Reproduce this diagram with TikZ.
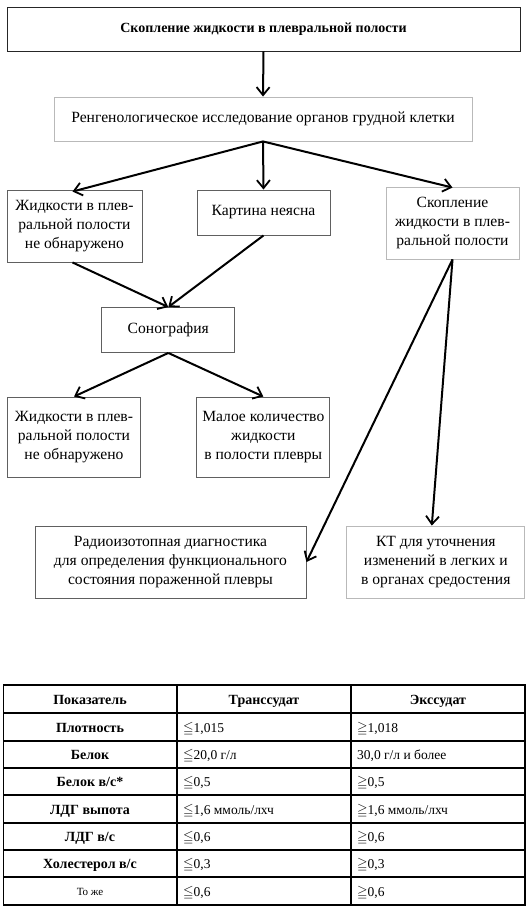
\documentclass[tikz,border=0pt]{standalone}
\usepackage{fontspec}
\setmainfont{Liberation Serif}
\usepackage{amssymb}
\usetikzlibrary{arrows.meta,calc}
\begin{document}
\begin{tikzpicture}[x=1pt,y=-1pt,
  box/.style={draw=gray!75!black, line width=0.9pt, align=center, inner sep=0pt,
    font=\fontsize{15.6}{18.8}\selectfont},
  lbox/.style={box, draw=gray!55},
  arr/.style={-{Straight Barb[length=8pt,width=13pt,line width=1.8pt]}, line width=2pt},
  th/.style={font=\fontsize{14}{16}\selectfont\bfseries, inner sep=0pt, anchor=base},
  td/.style={font=\fontsize{13.5}{16}\selectfont, anchor=base west, inner sep=0pt},
  tl/.style={line width=1.6pt}]
\useasboundingbox (0,0) rectangle (530,908);
% flowchart
\node[box, draw=black!85, minimum width=513pt, minimum height=44pt, font=\fontsize{14}{18}\selectfont\bfseries] (top) at (263.5,29) {Скопление жидкости в плевральной полости};
\node[lbox, minimum width=418pt, minimum height=44pt] (xray) at (263,119) {Ренгенологическое исследование органов грудной клетки};
\node[box, minimum width=135pt, minimum height=72pt] (none1) at (74.5,226) {Жидкости в плев-\\ральной полости\\не обнаружено};
\node[box, minimum width=133pt, minimum height=45pt] (unclear) at (263.5,212.5) {Картина неясна};
\node[lbox, minimum width=133pt, minimum height=72pt] (fluid) at (452.5,223) {Скопление\\жидкости в плев-\\ральной полости};
\node[box, minimum width=133pt, minimum height=45pt] (sono) at (168.3,330) {Сонография};
\node[box, minimum width=133pt, minimum height=80pt] (none2) at (74,437) {Жидкости в плев-\\ральной полости\\не обнаружено};
\node[box, minimum width=133pt, minimum height=80pt] (small) at (263.3,437) {Малое количество\\жидкости\\в полости плевры};
\node[box, minimum width=271pt, minimum height=72pt] (radio) at (170.5,562) {Радиоизотопная диагностика\\для определения функционального\\состояния пораженной плевры};
\node[lbox, minimum width=178pt, minimum height=72pt] (ct) at (435.8,562) {КТ для уточнения\\изменений в легких и\\в органах средостения};
\draw[arr] (top.south) -- (xray.north);
\draw[arr] (xray.south) -- ($(none1.north)+(-2,2)$);
\draw[arr] (xray.south) -- (unclear.north);
\draw[arr] (xray.south) -- ($(fluid.north)+(0,1)$);
\draw[arr] ($(none1.south)+(-2,0)$) -- (sono.north);
\draw[arr] (unclear.south) -- (sono.north);
\draw[arr] (sono.south) -- (none2.north);
\draw[arr] (sono.south) -- (small.north);
\draw[arr] (fluid.south) -- (radio.east);
\draw[arr] (fluid.south) -- ($(ct.north)+(-4,0)$);
% table
\draw[tl, line width=1.8pt] (3.5,685) rectangle (525,905);
\foreach \y in {713,741,768,795,823,850,877} \draw[tl] (3.5,\y) -- (525,\y);
\draw[tl] (177,685) -- (177,905);
\draw[tl] (351,685) -- (351,905);
\node[th] (h1) at (90,704) {Показатель};
\node[th] (h2) at (264,704) {Транссудат};
\node[th] (h3) at (438,704) {Экссудат};
\node[th] (r1) at (90,732) {Плотность};
\node[th] (r2) at (90,759.5) {Белок};
\node[th] (r3) at (90,786.5) {Белок в/с*};
\node[th] (r4) at (90,814) {ЛДГ выпота};
\node[th] (r5) at (90,841.5) {ЛДГ в/с};
\node[th] (r6) at (90,868.5) {Холестерол в/с};
\node[inner sep=0pt, anchor=base, font=\fontsize{11}{13}\selectfont] (r7) at (90,895) {То же};
\node[td] (a1) at (183,732) {$\leqq$1,015};
\node[td] (a2) at (183,759.5) {$\leqq$20,0 г/л};
\node[td] (a3) at (183,786.5) {$\leqq$0,5};
\node[td] (a4) at (183,814) {$\leqq$1,6 ммоль/лхч};
\node[td] (a5) at (183,841.5) {$\leqq$0,6};
\node[td] (a6) at (183,868.5) {$\leqq$0,3};
\node[td] (a7) at (183,896) {$\leqq$0,6};
\node[td] (b1) at (357,732) {$\geqq$1,018};
\node[td] (b2) at (357,759.5) {30,0 г/л и более};
\node[td] (b3) at (357,786.5) {$\geqq$0,5};
\node[td] (b4) at (357,814) {$\geqq$1,6 ммоль/лхч};
\node[td] (b5) at (357,841.5) {$\geqq$0,6};
\node[td] (b6) at (357,868.5) {$\geqq$0,3};
\node[td] (b7) at (357,896) {$\geqq$0,6};
\end{tikzpicture}
\end{document}
